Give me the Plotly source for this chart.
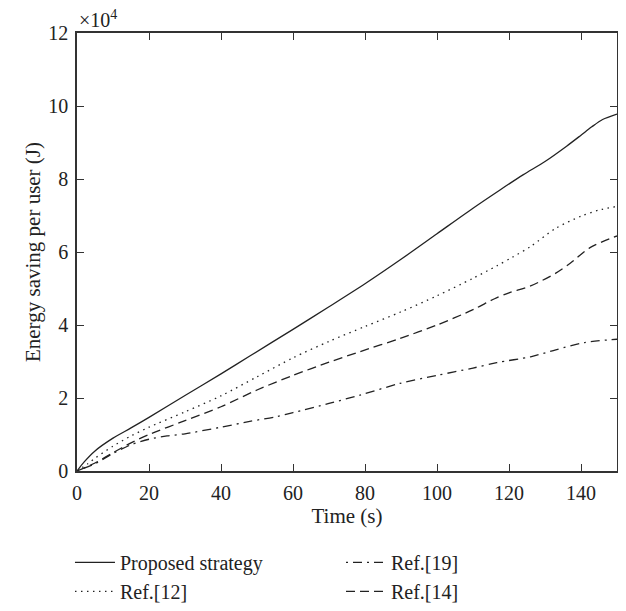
import plotly.graph_objects as go

# Values in units of 10^4 J
t_prop = [0, 2, 5, 10, 15, 20, 30, 40, 48, 60, 70, 80, 90, 100, 110, 117.5, 124, 130, 136, 140, 143, 146, 150]
y_prop = [0, 0.25, 0.55, 0.9, 1.18, 1.47, 2.07, 2.66, 3.15, 3.88, 4.5, 5.13, 5.8, 6.5, 7.2, 7.7, 8.12, 8.48, 8.9, 9.2, 9.43, 9.63, 9.78]

t_r12 = [0, 3, 5, 10, 15, 20, 30, 40, 50, 60, 70, 80, 90, 100, 110, 116.6, 121, 126, 133, 140, 145, 150]
y_r12 = [0, 0.2, 0.35, 0.68, 0.96, 1.2, 1.62, 2.06, 2.58, 3.1, 3.55, 3.96, 4.36, 4.8, 5.28, 5.62, 5.86, 6.15, 6.65, 6.98, 7.15, 7.25]

t_r14 = [0, 5, 10, 15, 20, 30, 40, 50, 60, 70, 78.6, 89.7, 100, 110, 116, 120, 126, 133, 137, 142.5, 150]
y_r14 = [0, 0.22, 0.5, 0.77, 1.0, 1.38, 1.76, 2.22, 2.62, 2.98, 3.27, 3.63, 4.0, 4.42, 4.72, 4.88, 5.07, 5.42, 5.69, 6.12, 6.44]

t_r19 = [0, 5, 10, 15, 20, 25, 30, 40, 48, 55.5, 60, 70, 78.6, 89.7, 100, 110, 116.6, 126, 133, 141, 150]
y_r19 = [0, 0.2, 0.48, 0.72, 0.87, 0.96, 1.02, 1.2, 1.36, 1.49, 1.6, 1.85, 2.08, 2.4, 2.62, 2.82, 2.97, 3.13, 3.32, 3.52, 3.61]

x_ticks = [0, 20, 40, 60, 80, 100, 120, 140]
y_ticks = [0, 2, 4, 6, 8, 10, 12]

LINE = "#222222"
AX = "#333333"
FONT = "Liberation Serif"
FS = 20
FT = 21
SM = 0.8

fig = go.Figure()
fig.add_trace(go.Scatter(x=t_prop, y=y_prop, mode="lines", name="Proposed strategy",
                         line=dict(color=LINE, width=1.3, shape="spline", smoothing=SM)))
fig.add_trace(go.Scatter(x=t_r19, y=y_r19, mode="lines", name="Ref.[19]",
                         line=dict(color=LINE, width=1.3, dash="2px,5px,9px,5px", shape="spline", smoothing=SM)))
fig.add_trace(go.Scatter(x=t_r12, y=y_r12, mode="lines", name="Ref.[12]",
                         line=dict(color=LINE, width=1.3, dash="1.5px,4.5px", shape="spline", smoothing=SM)))
fig.add_trace(go.Scatter(x=t_r14, y=y_r14, mode="lines", name="Ref.[14]",
                         line=dict(color=LINE, width=1.3, dash="9px,5px", shape="spline", smoothing=SM)))

axis_common = dict(showline=True, linecolor=AX, linewidth=1.5, mirror="ticks",
                   ticks="inside", ticklen=7, tickwidth=1.2, tickcolor=AX,
                   showgrid=False, zeroline=False, automargin=False,
                   tickfont=dict(family=FONT, size=FS, color="#222"))

fig.update_xaxes(range=[0, 150], tickvals=x_ticks, ticklabelstandoff=3,
                 title=dict(text="Time (s)", font=dict(family=FONT, size=FT, color="#222"), standoff=6),
                 **axis_common)
fig.update_yaxes(range=[0, 12], tickvals=y_ticks, ticklabelstandoff=3,
                 title=dict(text="Energy saving per user (J)", font=dict(family=FONT, size=FT, color="#222"), standoff=2),
                 **axis_common)

fig.add_annotation(x=0, y=1, xref="paper", yref="paper", xanchor="left", yanchor="bottom",
                   text="×10<sup>4</sup>", showarrow=False, yshift=0,
                   font=dict(family=FONT, size=FS, color="#222"))

# the page body has an 8px margin, so the figure is sized to fit the 626x611 window
fig.update_layout(
    width=610, height=595,
    margin=dict(l=69, r=1, t=25, b=132, autoexpand=False),
    plot_bgcolor="white", paper_bgcolor="white",
    font=dict(family=FONT, size=FS, color="#222"),
    legend=dict(orientation="h", x=-0.013, xanchor="left", y=-0.164, yanchor="top",
                entrywidth=216, entrywidthmode="pixels",
                font=dict(family=FONT, size=20, color="#222"),
                tracegroupgap=0, itemwidth=40),
)

fig.write_html("out.html")
